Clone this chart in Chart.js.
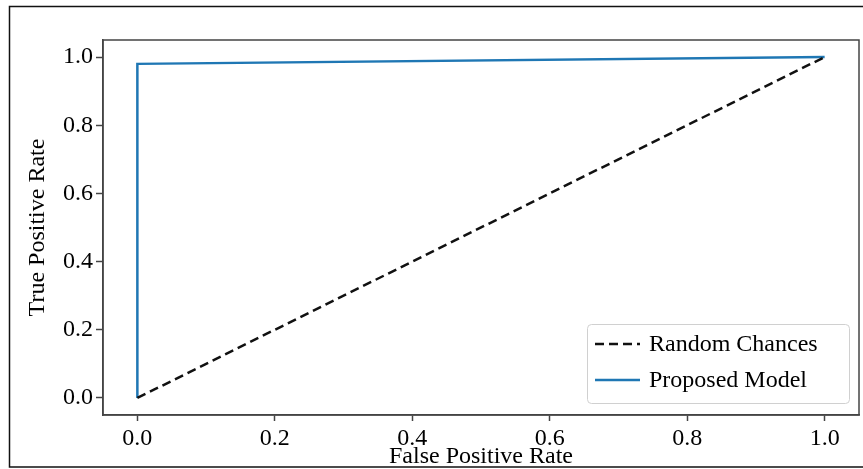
<!DOCTYPE html>
<html>
<head>
<meta charset="utf-8">
<script src="https://cdn.jsdelivr.net/npm/chart.js@4.4.1/dist/chart.umd.min.js"></script>
<style>
  html, body { margin: 0; padding: 0; background: #fff; }
  #wrap { width: 863px; height: 469px; position: relative; }
</style>
</head>
<body>
<div id="wrap"><canvas id="rocChart"></canvas></div>
<script>
// ROC data
const randomFpr = [0, 1];
const randomTpr = [0, 1];
const modelFpr = [0, 0, 1];
const modelTpr = [0, 0.98, 1];
const tickValues = [0, 0.2, 0.4, 0.6, 0.8, 1.0];
const seriesLabels = ['Random Chances', 'Proposed Model'];

const FONT = 'Liberation Serif';
const SPINE = '#444';

function toPoints(xs, ys) {
    return xs.map((x, i) => ({ x: x, y: ys[i] }));
}

// outer figure frame + top/right spines + legend box inside the axes
const decorations = {
    id: 'decorations',
    afterDraw(chart) {
        const ctx = chart.ctx;
        const a = chart.chartArea;
        ctx.save();
        // axes box
        ctx.strokeStyle = SPINE;
        ctx.lineWidth = 1.5;
        ctx.strokeRect(a.left, a.top, a.right - a.left, a.bottom - a.top);
        // outer frame
        ctx.strokeStyle = '#111';
        ctx.lineWidth = 1.5;
        ctx.beginPath();
        ctx.moveTo(870, 6.5);
        ctx.lineTo(9.5, 6.5);
        ctx.lineTo(9.5, 467);
        ctx.lineTo(870, 467);
        ctx.stroke();

        // legend
        const x0 = 587, y0 = 324, w = 262, h = 79, r = 4;
        ctx.fillStyle = 'rgba(255,255,255,0.85)';
        ctx.strokeStyle = '#d0d0d0';
        ctx.lineWidth = 1;
        ctx.beginPath();
        ctx.roundRect(x0 + 0.5, y0 + 0.5, w, h, r);
        ctx.fill();
        ctx.stroke();
        ctx.font = '24px "' + FONT + '"';
        ctx.textBaseline = 'middle';
        ctx.fillStyle = '#000';
        chart.data.datasets.forEach((ds, i) => {
            const cy = 344 + i * 36;
            ctx.strokeStyle = ds.borderColor;
            ctx.lineWidth = ds.borderWidth;
            ctx.setLineDash(ds.borderDash || []);
            ctx.beginPath();
            ctx.moveTo(595, cy);
            ctx.lineTo(640, cy);
            ctx.stroke();
            ctx.setLineDash([]);
            ctx.fillText(ds.label, 649, cy + 1);
        });
        ctx.restore();
    }
};

const ctx = document.getElementById('rocChart').getContext('2d');
const rocChart = new Chart(ctx, {
    type: 'scatter',
    data: {
        datasets: [{
            label: seriesLabels[0],
            data: toPoints(randomFpr, randomTpr),
            showLine: true,
            borderColor: '#111',
            borderWidth: 2.5,
            borderDash: [9, 5],
            pointRadius: 0,
            fill: false
        }, {
            label: seriesLabels[1],
            data: toPoints(modelFpr, modelTpr),
            showLine: true,
            borderColor: '#1f77b4',
            borderWidth: 2.5,
            pointRadius: 0,
            fill: false
        }]
    },
    options: {
        responsive: true,
        maintainAspectRatio: false,
        animation: false,
        layout: { padding: { top: 40, right: 4, bottom: 0, left: 0 } },
        plugins: {
            legend: { display: false },
            tooltip: { enabled: false }
        },
        scales: {
            x: {
                type: 'linear',
                min: -0.05,
                max: 1.05,
                afterBuildTicks: s => { s.ticks = tickValues.map(v => ({ value: v })); },
                afterFit: s => { s.height = 54; },
                grid: { drawOnChartArea: false, tickLength: 6, color: SPINE, tickWidth: 1.5 },
                border: { display: true, color: SPINE, width: 1.5 },
                ticks: {
                    color: '#000',
                    padding: 3,
                    maxRotation: 0,
                    font: { family: FONT, size: 24 },
                    callback: v => v.toFixed(1)
                },
                title: {
                    display: true,
                    text: 'False Positive Rate',
                    color: '#000',
                    font: { family: FONT, size: 24, lineHeight: 1 },
                    padding: 0
                }
            },
            y: {
                type: 'linear',
                min: -0.05,
                max: 1.05,
                afterBuildTicks: s => { s.ticks = tickValues.map(v => ({ value: v })); },
                afterFit: s => { s.width = 103; },
                grid: { drawOnChartArea: false, tickLength: 7, color: SPINE, tickWidth: 1.5 },
                border: { display: true, color: SPINE, width: 1.5 },
                ticks: {
                    color: '#000',
                    padding: 3,
                    font: { family: FONT, size: 24 },
                    callback: v => v.toFixed(1)
                },
                title: {
                    display: true,
                    text: 'True Positive Rate',
                    color: '#000',
                    font: { family: FONT, size: 24, lineHeight: 1 },
                    padding: { top: 26, bottom: 0 }
                }
            }
        }
    },
    plugins: [decorations]
});
</script>
</body>
</html>
